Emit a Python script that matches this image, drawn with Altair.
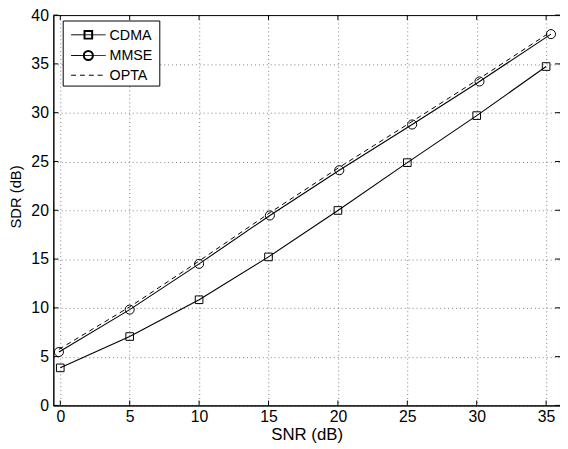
import altair as alt
import pandas as pd

# ---- data ----
cdma_x = [0, 5, 10, 15, 20, 25, 30, 35]
cdma_y = [3.85, 7.06, 10.83, 15.22, 19.98, 24.88, 29.7, 34.73]

mmse_x = [-0.1, 5.0, 10.0, 15.1, 20.1, 25.35, 30.2, 35.35]
mmse_y = [5.47, 9.82, 14.51, 19.47, 24.1, 28.79, 33.2, 38.05]

opta_x = [-0.1, 5.0, 10.0, 15.1, 20.1, 25.35, 30.2, 35.35]
opta_y = [5.75, 10.1, 14.8, 19.75, 24.4, 29.1, 33.5, 38.3]

x_ticks = [0, 5, 10, 15, 20, 25, 30, 35]
y_ticks = [0, 5, 10, 15, 20, 25, 30, 35, 40]

legend_labels = ["CDMA", "MMSE", "OPTA"]

W, H = 514, 396
FONT = "Liberation Sans"

xs = alt.Scale(domain=[-0.5, 36], nice=False, zero=False)
ys = alt.Scale(domain=[0, 40], nice=False, zero=False)

x_axis = alt.Axis(values=x_ticks, title="SNR (dB)", grid=True, ticks=False,
                  labelPadding=3, titleY=35, titleBaseline="alphabetic",
                  labelFontSize=16, titleFontSize=17)
y_axis = alt.Axis(values=y_ticks, title="SDR (dB)", grid=True, ticks=False,
                  labelPadding=5, titleX=-45, titleY=184, titleBaseline="top",
                  titleAngle=270, labelFontSize=16, titleFontSize=15)

df = pd.concat([
    pd.DataFrame({"x": cdma_x, "y": cdma_y, "s": "CDMA"}),
    pd.DataFrame({"x": mmse_x, "y": mmse_y, "s": "MMSE"}),
    pd.DataFrame({"x": opta_x, "y": opta_y, "s": "OPTA"}),
])

X = alt.X("x:Q", scale=xs, axis=x_axis)
Y = alt.Y("y:Q", scale=ys, axis=y_axis)

base = alt.Chart(df)

opta_line = base.transform_filter(alt.datum.s == "OPTA").mark_line(
    color="black", strokeWidth=1, strokeDash=[5, 4]).encode(x=X, y=Y)
mmse_line = base.transform_filter(alt.datum.s == "MMSE").mark_line(
    color="black", strokeWidth=1.1).encode(x=X, y=Y)
cdma_line = base.transform_filter(alt.datum.s == "CDMA").mark_line(
    color="black", strokeWidth=1.1).encode(x=X, y=Y)
mmse_pts = base.transform_filter(alt.datum.s == "MMSE").mark_point(
    shape="circle", size=85, filled=False, color="black", strokeWidth=1, opacity=1).encode(x=X, y=Y)
cdma_pts = base.transform_filter(alt.datum.s == "CDMA").mark_point(
    shape="square", size=60, filled=False, color="black", strokeWidth=1, opacity=1).encode(x=X, y=Y)

# inward ticks
xt = pd.DataFrame({"x": x_ticks})
yt = pd.DataFrame({"y": y_ticks})
tick_b = alt.Chart(xt).mark_rule(color="black", strokeWidth=1).encode(
    x=X, y=alt.value(H), y2=alt.value(H - 5))
tick_t = alt.Chart(xt).mark_rule(color="black", strokeWidth=1).encode(
    x=X, y=alt.value(0), y2=alt.value(5))
tick_l = alt.Chart(yt).mark_rule(color="black", strokeWidth=1).encode(
    y=Y, x=alt.value(0), x2=alt.value(5))
tick_r = alt.Chart(yt).mark_rule(color="black", strokeWidth=1).encode(
    y=Y, x=alt.value(W), x2=alt.value(W - 5))

# manual legend
one = pd.DataFrame({"a": [0]})
leg_box = alt.Chart(one).mark_rect(fill="white", stroke="black", strokeWidth=1).encode(
    x=alt.value(10), x2=alt.value(108), y=alt.value(6), y2=alt.value(72))
leg_rows = [20, 41, 61]
leg_layers = [leg_box]
for i, lab in enumerate(legend_labels):
    yy = leg_rows[i]
    dash = [5, 4] if lab == "OPTA" else [1, 0]
    leg_layers.append(alt.Chart(one).mark_rule(color="black", strokeWidth=1, strokeDash=dash).encode(
        x=alt.value(18), x2=alt.value(53), y=alt.value(yy)))
    if lab == "CDMA":
        leg_layers.append(alt.Chart(one).mark_point(shape="square", size=60, filled=False,
                                                     color="black", opacity=1).encode(
            x=alt.value(35.5), y=alt.value(yy)))
    if lab == "MMSE":
        leg_layers.append(alt.Chart(one).mark_point(shape="circle", size=85, filled=False,
                                                     color="black", opacity=1).encode(
            x=alt.value(35.5), y=alt.value(yy)))
    leg_layers.append(alt.Chart(pd.DataFrame({"l": [lab]})).mark_text(
        align="left", baseline="middle", font=FONT, fontSize=14.5, color="black").encode(
        x=alt.value(57), y=alt.value(yy + 1), text="l:N"))

chart = alt.layer(
    opta_line, mmse_line, cdma_line, mmse_pts, cdma_pts,
    tick_b, tick_t, tick_l, tick_r, *leg_layers
).properties(
    width=W, height=H,
    background="white",
    autosize=alt.AutoSizeParams(type="none"),
    padding={"left": 46, "top": 4, "right": 0, "bottom": 41},
).configure_view(
    stroke="black", strokeWidth=1
).configure_axis(
    labelFont=FONT, labelColor="black",
    titleFont=FONT, titleColor="black", titleFontWeight="normal",
    domainColor="black", domainWidth=1,
    gridColor="black", gridOpacity=0.5, gridDash=[1, 3], gridWidth=1,
)

chart.save("out.html", embed_options={"renderer": "svg", "actions": False})
